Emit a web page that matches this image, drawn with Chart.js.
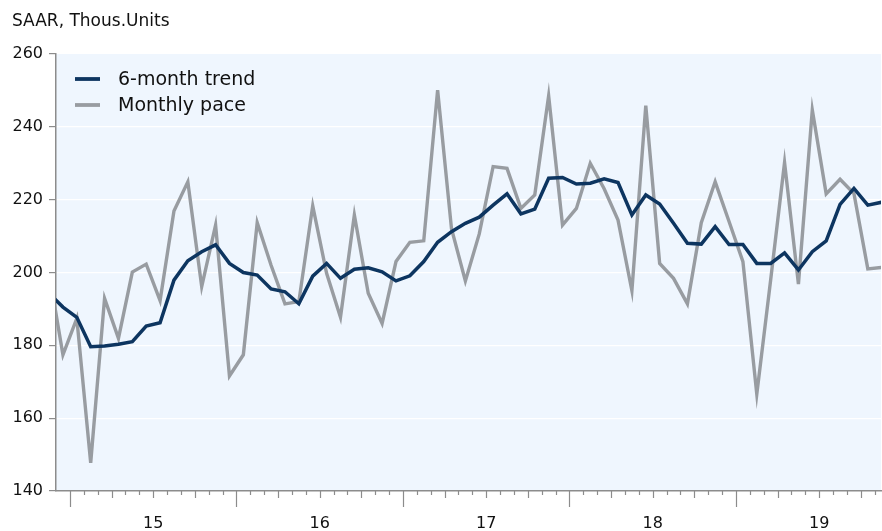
<!DOCTYPE html>
<html>
<head>
<meta charset="utf-8">
<title>SAAR, Thous.Units</title>
<script src="https://cdn.jsdelivr.net/npm/chart.js@4.4.1/dist/chart.umd.min.js"></script>
<style>
    html, body { margin: 0; padding: 0; background: #ffffff; }
    #wrap { width: 882px; height: 531px; }
</style>
</head>
<body>
<div id="wrap"><canvas id="chart" width="882" height="531"></canvas></div>
<script>
// ── Data ────────────────────────────────────────────────────────────────────
const months = [
    '2014-11', '2014-12',
    '2015-01', '2015-02', '2015-03', '2015-04', '2015-05', '2015-06',
    '2015-07', '2015-08', '2015-09', '2015-10', '2015-11', '2015-12',
    '2016-01', '2016-02', '2016-03', '2016-04', '2016-05', '2016-06',
    '2016-07', '2016-08', '2016-09', '2016-10', '2016-11', '2016-12',
    '2017-01', '2017-02', '2017-03', '2017-04', '2017-05', '2017-06',
    '2017-07', '2017-08', '2017-09', '2017-10', '2017-11', '2017-12',
    '2018-01', '2018-02', '2018-03', '2018-04', '2018-05', '2018-06',
    '2018-07', '2018-08', '2018-09', '2018-10', '2018-11', '2018-12',
    '2019-01', '2019-02', '2019-03', '2019-04', '2019-05', '2019-06',
    '2019-07', '2019-08', '2019-09', '2019-10', '2019-11',
];

const trend = [
    194.3, 190.5,
    187.7, 179.6, 179.8, 180.3, 181.0, 185.3, 186.2, 197.9, 203.2, 205.7, 207.6, 202.5,
    200.0, 199.3, 195.5, 194.7, 191.4, 199.0, 202.5, 198.4, 200.9, 201.3, 200.2, 197.7,
    199.1, 203.0, 208.3, 211.2, 213.5, 215.2, 218.5, 221.6, 216.1, 217.4, 225.9, 226.1,
    224.3, 224.5, 225.7, 224.7, 215.8, 221.3, 218.8, 213.5, 208.0, 207.8, 212.6, 207.7,
    207.7, 202.5, 202.5, 205.4, 200.7, 205.7, 208.7, 218.7, 223.1, 218.5, 219.3,
];

const monthly = [
    200.0, 177.4,
    187.4, 147.7, 192.9, 181.9, 200.1, 202.3, 192.3, 216.9, 224.9, 196.1, 213.0, 171.6,
    177.4, 213.7, 202.0, 191.4, 192.0, 218.3, 199.8, 187.7, 215.8, 194.3, 186.0, 203.0,
    208.3, 208.7, 250.1, 212.0, 197.7, 210.6, 229.1, 228.6, 217.6, 221.3, 248.5, 213.0,
    217.6, 230.0, 223.0, 214.4, 195.0, 245.8, 202.5, 198.4, 191.4, 213.7, 224.9, 214.0,
    203.0, 166.6, 198.0, 230.2, 196.8, 244.6, 221.6, 225.6, 221.7, 201.0, 201.4,
];

const yearLabels = ['15', '16', '17', '18', '19'];
const yTicks     = [140, 160, 180, 200, 220, 240, 260];

// ── Helpers ─────────────────────────────────────────────────────────────────
// months since Jan 2015, plotted at mid-month
function monthPos(s) {
    const [y, m] = s.split('-').map(Number);
    return (y - 2015) * 12 + (m - 1) + 0.5;
}

const AXIS_GREY = '#8c8c8c';
const TEXT      = '#111111';
Chart.defaults.font.family = "'DejaVu Sans', sans-serif";
Chart.defaults.color = TEXT;

// ── Plugins ─────────────────────────────────────────────────────────────────
const plotBackground = {
    id: 'plotBackground',
    beforeDraw(chart) {
        const { ctx, chartArea: a } = chart;
        ctx.save();
        ctx.fillStyle = '#ffffff';
        ctx.fillRect(0, 0, chart.width, chart.height);
        ctx.fillStyle = '#eff6fe';
        ctx.fillRect(a.left, a.top, a.right - a.left, a.bottom - a.top);
        ctx.restore();
    },
};

// month / quarter / year tick marks under the x axis
const monthTicks = {
    id: 'monthTicks',
    afterDraw(chart) {
        const { ctx } = chart;
        const x = chart.scales.x;
        const bottom = chart.chartArea.bottom;
        ctx.save();
        ctx.strokeStyle = AXIS_GREY;
        ctx.lineWidth = 1.2;
        for (let n = Math.floor(x.min) + 1; n <= x.max; n++) {
            const len = n % 12 === 0 ? 16 : (n % 3 === 0 ? 7 : 4);
            const px = Math.round(x.getPixelForValue(n)) + 0.5;
            ctx.beginPath();
            ctx.moveTo(px, bottom);
            ctx.lineTo(px, bottom + len);
            ctx.stroke();
        }
        ctx.restore();
    },
};

// legend sits inside the plot, top-left
const insideLegend = {
    id: 'insideLegend',
    afterDraw(chart) {
        const { ctx } = chart;
        ctx.save();
        ctx.font = "19px 'DejaVu Sans', sans-serif";
        ctx.textBaseline = 'middle';
        chart.data.datasets.forEach((ds, i) => {
            const y = 79 + i * 26;
            ctx.strokeStyle = ds.borderColor;
            ctx.lineWidth = 3.8;
            ctx.beginPath();
            ctx.moveTo(75, y);
            ctx.lineTo(100, y);
            ctx.stroke();
            ctx.fillStyle = TEXT;
            ctx.fillText(ds.label, 118, y + 1);
        });
        ctx.restore();
    },
};

// ── Chart ───────────────────────────────────────────────────────────────────
new Chart(document.getElementById('chart'), {
    type: 'line',
    data: {
        datasets: [
            {
                label: '6-month trend',
                data: months.map((m, i) => ({ x: monthPos(m), y: trend[i] })),
                borderColor: '#0d3560',
                borderWidth: 3.5,
                pointRadius: 0,
                tension: 0,
                clip: 0,
            },
            {
                label: 'Monthly pace',
                data: months.map((m, i) => ({ x: monthPos(m), y: monthly[i] })),
                borderColor: '#989ca1',
                borderWidth: 3.4,
                pointRadius: 0,
                tension: 0,
                clip: 0,
            },
        ],
    },
    options: {
        responsive: false,
        animation: false,
        layout: { padding: { left: 12, right: 1, top: 0, bottom: 0 } },
        plugins: {
            legend: { display: false },
            tooltip: { enabled: false },
            title: {
                display: true,
                text: 'SAAR, Thous.Units',
                align: 'start',
                color: TEXT,
                font: { size: 17, weight: 'normal' },
                padding: { top: 11, bottom: 22.6 },
            },
        },
        scales: {
            x: {
                type: 'linear',
                min: -1,
                max: 58.45,
                afterFit(scale) { scale.height = 40; },
                afterBuildTicks(scale) {
                    scale.ticks = yearLabels.map((_, k) => ({ value: 6 + 12 * k }));
                },
                ticks: {
                    autoSkip: false,
                    maxRotation: 0,
                    padding: 23,
                    font: { size: 16 },
                    callback(value) {
                        return yearLabels[Math.round((value - 6) / 12)];
                    },
                },
                grid: { display: true, drawOnChartArea: false, drawTicks: false },
                border: { display: true, color: AXIS_GREY, width: 1.5 },
            },
            y: {
                min: 140,
                max: 260,
                afterFit(scale) { scale.width = 44; },
                afterBuildTicks(scale) {
                    scale.ticks = yTicks.map(v => ({ value: v }));
                },
                ticks: { padding: 6, font: { size: 16 } },
                grid: {
                    color: ctx => (ctx.tick && (ctx.tick.value === 140 || ctx.tick.value === 260))
                        ? 'rgba(0,0,0,0)' : '#ffffff',
                    lineWidth: 1.2,
                    tickColor: AXIS_GREY,
                    tickLength: 7,
                },
                border: { display: true, color: AXIS_GREY, width: 1.5 },
            },
        },
    },
    plugins: [plotBackground, monthTicks, insideLegend],
});
</script>
</body>
</html>
